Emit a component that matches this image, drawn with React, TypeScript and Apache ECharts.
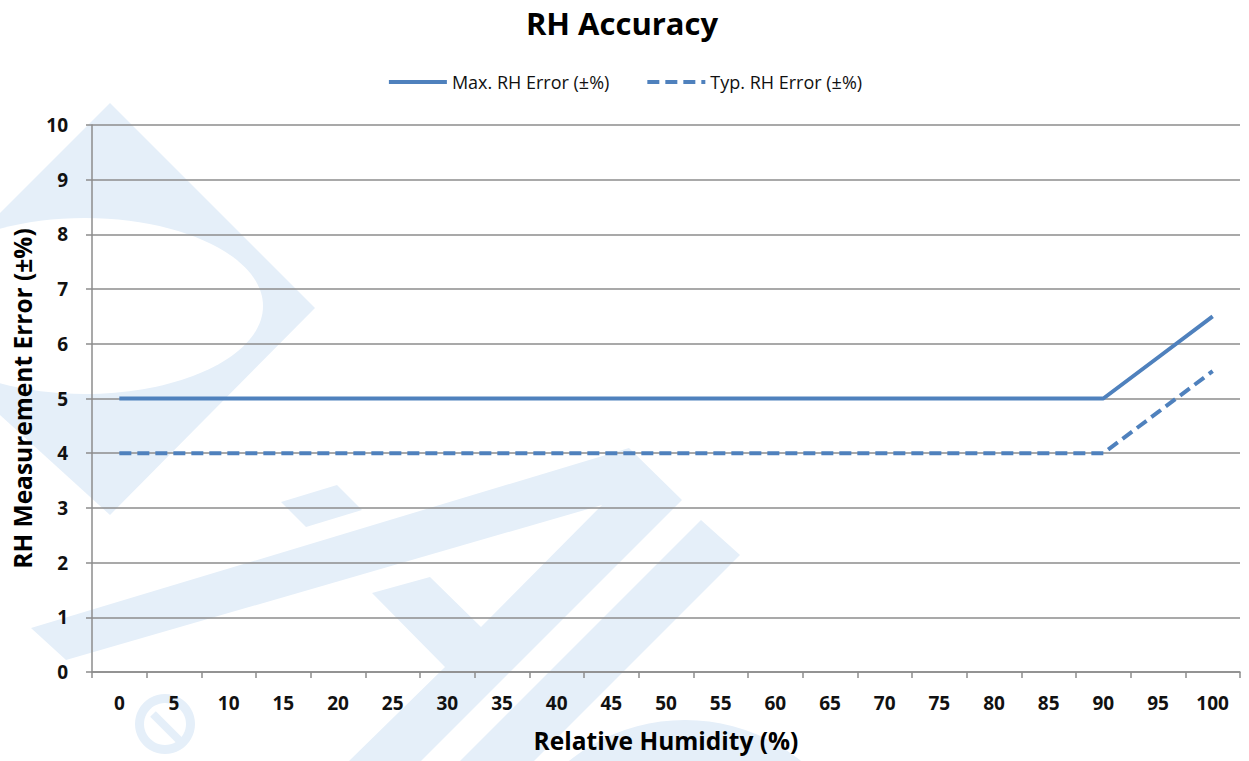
import React, { useEffect, useRef } from 'react';
import * as echarts from 'echarts';

const categories = ['0', '5', '10', '15', '20', '25', '30', '35', '40', '45', '50', '55', '60', '65', '70', '75', '80', '85', '90', '95', '100'];
const maxRhError = [5, 5, 5, 5, 5, 5, 5, 5, 5, 5, 5, 5, 5, 5, 5, 5, 5, 5, 5, 5.75, 6.5];
const typRhError = [4, 4, 4, 4, 4, 4, 4, 4, 4, 4, 4, 4, 4, 4, 4, 4, 4, 4, 4, 4.75, 5.5];
const seriesNames = ['Max. RH Error (±%)', 'Typ. RH Error (±%)'];

const FONT = '"Open Sans", "Noto Sans", sans-serif';
const LINE = '#4f81bd';
const GRID = '#8c8c8c';
const WM = '#e5eff9';

export default function App() {
  const ref = useRef<HTMLDivElement>(null);
  useEffect(() => {
    const chart = echarts.init(ref.current!, null, { renderer: 'svg' });
    const wmStyle = { fill: WM };
    chart.setOption({
      animation: false,
      backgroundColor: '#ffffff',
      graphic: [
        { type: 'polygon', z: -10, silent: true, shape: { points: [[110, 103], [315, 308], [110, 515], [0, 415], [0, 213]] }, style: wmStyle },
        { type: 'ellipse', z: -9, silent: true, shape: { cx: 85, cy: 306, rx: 178, ry: 88 }, style: { fill: '#ffffff' } },
        { type: 'polygon', z: -10, silent: true, shape: { points: [[31, 628], [629, 448], [682, 500], [421, 761], [349, 761], [445, 667], [372, 593], [430, 577], [481, 627], [602, 505], [66, 660]] }, style: wmStyle },
        { type: 'polygon', z: -10, silent: true, shape: { points: [[281, 502], [337, 485], [362, 510], [306, 527]] }, style: wmStyle },
        { type: 'polygon', z: -10, silent: true, shape: { points: [[701, 520], [740, 555], [534, 761], [460, 761]] }, style: wmStyle },
        { type: 'circle', z: -10, silent: true, shape: { cx: 685, cy: 905, r: 185 }, style: wmStyle },
        { type: 'ring', z: -10, silent: true, shape: { cx: 165, cy: 724, r: 30, r0: 21 }, style: wmStyle },
        { type: 'line', z: -10, silent: true, shape: { x1: 153, y1: 714, x2: 181, y2: 742 }, style: { stroke: WM, lineWidth: 8 } },
      ],
      title: {
        text: 'RH Accuracy',
        left: 617,
        top: 2,
        textAlign: 'center',
        textStyle: { fontFamily: FONT, fontWeight: 'bold', fontSize: 31, color: '#000' },
      },
      legend: {
        data: seriesNames,
        left: 'center',
        top: 68,
        itemWidth: 58,
        itemHeight: 14,
        itemGap: 36,
        itemStyle: { opacity: 0 },
        lineStyle: { width: 4 },
        textStyle: { fontFamily: FONT, fontSize: 18, color: '#111' },
      },
      grid: { left: 92, right: 9, top: 125, bottom: 89, containLabel: false },
      xAxis: {
        type: 'category',
        data: categories,
        boundaryGap: true,
        name: 'Relative Humidity (%)',
        nameLocation: 'middle',
        nameGap: 56,
        nameTextStyle: { fontFamily: FONT, fontWeight: 'bold', fontSize: 24.5, color: '#000' },
        axisLine: { show: true, lineStyle: { color: GRID, width: 1.5 } },
        axisTick: { show: true, alignWithLabel: false, interval: 0, length: 6, lineStyle: { color: GRID, width: 1.5 } },
        axisLabel: { interval: 0, margin: 21, fontFamily: FONT, fontWeight: 'bold', fontSize: 19, color: '#111' },
        splitLine: { show: false },
      },
      yAxis: {
        type: 'value',
        min: 0,
        max: 10,
        interval: 1,
        name: 'RH Measurement Error (±%)',
        nameLocation: 'middle',
        nameGap: 52,
        nameTextStyle: { fontFamily: FONT, fontWeight: 'bold', fontSize: 24.5, color: '#000' },
        axisLine: { show: true, lineStyle: { color: GRID, width: 1.5 } },
        axisTick: { show: true, length: 6, lineStyle: { color: GRID, width: 1.5 } },
        axisLabel: { margin: 24, fontFamily: FONT, fontWeight: 'bold', fontSize: 19, color: '#111' },
        splitLine: { show: true, lineStyle: { color: GRID, width: 1.5 } },
      },
      series: [
        {
          name: seriesNames[0],
          type: 'line',
          data: maxRhError,
          symbol: 'none',
          lineStyle: { color: LINE, width: 4 },
          itemStyle: { color: LINE },
        },
        {
          name: seriesNames[1],
          type: 'line',
          data: typRhError,
          symbol: 'none',
          lineStyle: { color: LINE, width: 4, type: [12, 6] },
          itemStyle: { color: LINE },
        },
      ],
    });
    return () => chart.dispose();
  }, []);
  return <div ref={ref} style={{ position: 'absolute', left: 0, top: 0, width: 1249, height: 761 }} />;
}
